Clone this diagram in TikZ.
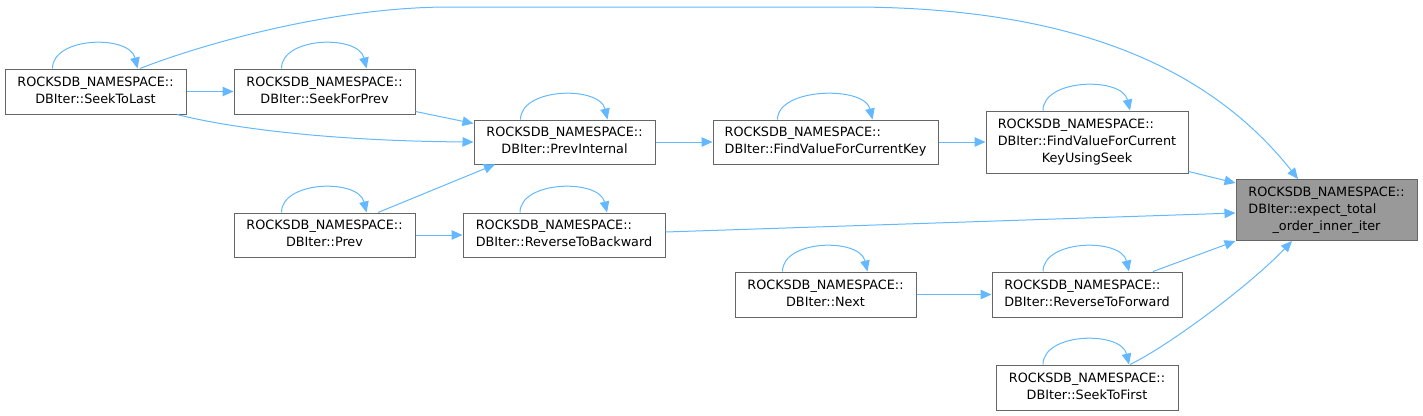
\documentclass[tikz,border=0pt]{standalone}
\usepackage{fontspec}
\setmainfont{DejaVu Sans}
\usetikzlibrary{arrows.meta}
\definecolor{edgeblue}{HTML}{63B8FF}
\definecolor{boxgray}{HTML}{666666}
\definecolor{hilite}{HTML}{999999}
\tikzset{fnbox/.style={draw=boxgray, fill=white, line width=1pt, inner sep=0pt, font=\fontsize{12.8}{16.8}\selectfont}}
\tikzset{fncur/.style={fnbox, fill=hilite}}
\tikzset{arr/.style={draw=edgeblue, line width=1pt, -{Triangle[length=11pt,width=9.5pt]}}}
\tikzset{selfloop/.style={to path={.. controls +(0,32) and +(-8,34) .. (\tikztotarget)}}}
\newcommand{\twoln}[2]{\begin{tabular}{@{}l@{}}#1\\\multicolumn{1}{@{}c@{}}{#2}\end{tabular}}
\newcommand{\threeln}[3]{\begin{tabular}{@{}l@{}}#1\\#2\\\multicolumn{1}{@{}c@{}}{#3}\end{tabular}}

\begin{document}
\begin{tikzpicture}[x=1pt,y=1pt]
    \useasboundingbox (0,0) rectangle (1423,-415);
    \node[fnbox, minimum width=181pt, minimum height=45pt] (stl) at (95.5,-91.5)
        {\twoln{ROCKSDB\_NAMESPACE::}{DBIter::SeekToLast}};
    \node[fnbox, minimum width=181pt, minimum height=45pt] (sfp) at (324.5,-91.5)
        {\twoln{ROCKSDB\_NAMESPACE::}{DBIter::SeekForPrev}};
    \node[fnbox, minimum width=181pt, minimum height=44pt] (pin) at (564.5,-142)
        {\twoln{ROCKSDB\_NAMESPACE::}{DBIter::PrevInternal}};
    \node[fnbox, minimum width=225pt, minimum height=44pt] (fvk) at (825.5,-142)
        {\twoln{ROCKSDB\_NAMESPACE::}{DBIter::FindValueForCurrentKey}};
    \node[fnbox, minimum width=202pt, minimum height=62pt] (fvs) at (1087,-142)
        {\threeln{ROCKSDB\_NAMESPACE::}{DBIter::FindValueForCurrent}{KeyUsingSeek}};
    \node[fncur, minimum width=181pt, minimum height=61pt] (eto) at (1326.5,-210)
        {\threeln{ROCKSDB\_NAMESPACE::}{DBIter::expect\_total}{\_order\_inner\_iter}};
    \node[fnbox, minimum width=181pt, minimum height=44pt] (prv) at (324.5,-235)
        {\twoln{ROCKSDB\_NAMESPACE::}{DBIter::Prev}};
    \node[fnbox, minimum width=202pt, minimum height=44pt] (rtb) at (564,-235)
        {\twoln{ROCKSDB\_NAMESPACE::}{DBIter::ReverseToBackward}};
    \node[fnbox, minimum width=181pt, minimum height=45pt] (nxt) at (825.5,-294.5)
        {\twoln{ROCKSDB\_NAMESPACE::}{DBIter::Next}};
    \node[fnbox, minimum width=190pt, minimum height=45pt] (rtf) at (1087,-294.5)
        {\twoln{ROCKSDB\_NAMESPACE::}{DBIter::ReverseToForward}};
    \node[fnbox, minimum width=182pt, minimum height=45pt] (stf) at (1087,-387.5)
        {\twoln{ROCKSDB\_NAMESPACE::}{DBIter::SeekToFirst}};

    % self calls
    \draw[arr] ([xshift=-43pt]stl.north) to[selfloop] ([xshift=42pt]stl.north);
    \draw[arr] ([xshift=-43pt]sfp.north) to[selfloop] ([xshift=42pt]sfp.north);
    \draw[arr] ([xshift=-44pt]pin.north) to[selfloop] ([xshift=43pt]pin.north);
    \draw[arr] ([xshift=-48pt]fvk.north) to[selfloop] ([xshift=47pt]fvk.north);
    \draw[arr] ([xshift=-44pt]fvs.north) to[selfloop] ([xshift=43pt]fvs.north);
    \draw[arr] ([xshift=-43pt]prv.north) to[selfloop] ([xshift=42pt]prv.north);
    \draw[arr] ([xshift=-44pt]rtb.north) to[selfloop] ([xshift=43pt]rtb.north);
    \draw[arr] ([xshift=-43pt]nxt.north) to[selfloop] ([xshift=42pt]nxt.north);
    \draw[arr] ([xshift=-44pt]rtf.north) to[selfloop] ([xshift=42pt]rtf.north);
    \draw[arr] ([xshift=-44pt]stf.north) to[selfloop] ([xshift=42pt]stf.north);

    % calls
    \draw[arr] ([xshift=44.5pt]stl.north) .. controls (200,-45) and (330,-7) .. (450,-7)
        -- (850,-7) .. controls (1050,-7) and (1200,-55) .. ([xshift=-28.5pt]eto.north);
    \draw[arr] (stl.east) -- (sfp.west);
    \draw[arr] ([xshift=81.5pt]stl.south) .. controls (230,-128) and (330,-141) .. (pin.west);
    \draw[arr] ([yshift=3pt]sfp.south east) -- ([yshift=-4pt]pin.north west);
    \draw[arr] ([xshift=53.5pt]prv.north) -- ([xshift=-69.5pt]pin.south);
    \draw[arr] (prv.east) -- (rtb.west);
    \draw[arr] (pin.east) -- (fvk.west);
    \draw[arr] (fvk.east) -- (fvs.west);
    \draw[arr] ([yshift=2pt]fvs.south east) -- ([yshift=-4pt]eto.north west);
    \draw[arr] ([yshift=3pt]rtb.east) -- ([yshift=-3pt]eto.west);
    \draw[arr] ([xshift=66pt]rtf.north) -- (eto.south west);
    \draw[arr] (nxt.east) -- (rtf.west);
    \draw[arr] ([xshift=43pt]stf.north) .. controls (1170,-345) and (1250,-285) .. ([xshift=-34.5pt]eto.south);
\end{tikzpicture}
\end{document}
